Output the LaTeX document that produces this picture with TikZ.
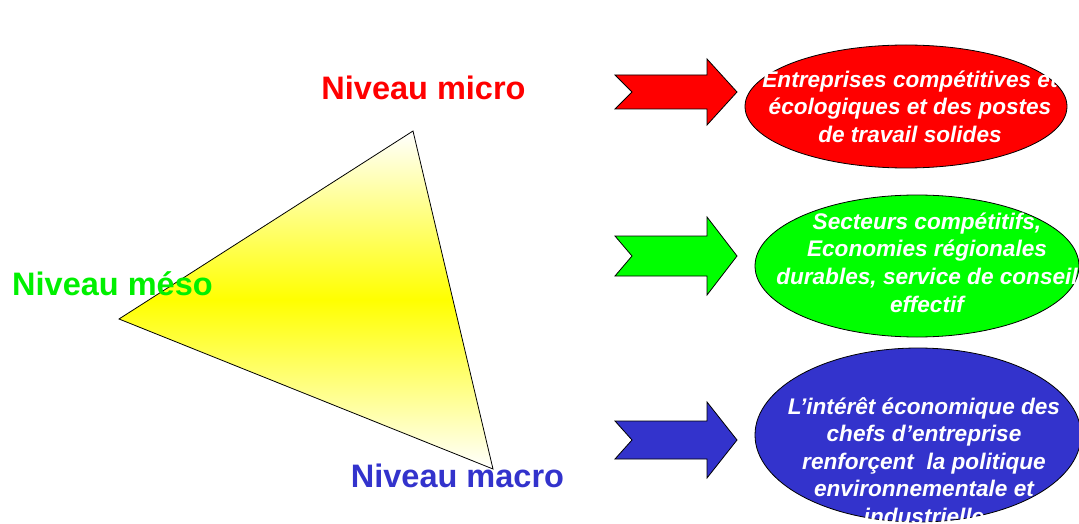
\documentclass[tikz,border=0pt]{standalone}
\usepackage{fontspec}
\setmainfont{Liberation Sans}
\usetikzlibrary{shapes.geometric,calc}

\definecolor{rouge}{RGB}{255,0,0}
\definecolor{vert}{RGB}{0,255,0}
\definecolor{vertclair}{RGB}{0,240,0}
\definecolor{bleu}{RGB}{51,51,204}

\begin{document}
\begin{tikzpicture}[x=1pt,y=-1pt,
    niveau/.style={anchor=base,font=\fontsize{32.5}{36}\selectfont\bfseries},
    bulle/.style={ellipse,draw=black,line width=0.8pt},
    texte/.style={align=center,text=white,font=\fontsize{22.6}{27.6}\selectfont\bfseries\itshape},
    fleche/.style={draw=black,line width=0.8pt,line join=miter}]

  \useasboundingbox (0,0) rectangle (1079,524);

  % triangle des niveaux
  \coordinate (micro) at (413,131);
  \coordinate (meso)  at (119,319);
  \coordinate (macro) at (493,469);
  \shade[top color=white,bottom color=white,middle color=yellow,draw=black,line width=0.8pt]
    (micro) -- (meso) -- (macro) -- cycle;

  \node[niveau,text=rouge]     (lmicro) at (423.5,100) {Niveau micro};
  \node[niveau,text=vertclair] (lmeso)  at (112.5,295) {Niveau méso};
  \node[niveau,text=bleu]      (lmacro) at (457.5,487) {Niveau macro};

  % fleches
  \foreach \yc/\h/\b/\col in {92/33/17/rouge,256/39/20/vert,440/38/19/bleu}
    \draw[fleche,fill=\col] (615,\yc-\b) -- (707,\yc-\b) -- (707,\yc-\h) -- (737,\yc)
      -- (707,\yc+\h) -- (707,\yc+\b) -- (615,\yc+\b) -- (632,\yc) -- cycle;

  % bulles
  \node[bulle,fill=rouge,minimum width=322pt,minimum height=123pt] (e1) at (906,106.5) {};
  \node[bulle,fill=vert,minimum width=324pt,minimum height=142pt]  (e2) at (917,266) {};
  \node[bulle,fill=bleu,minimum width=326pt,minimum height=174pt]  (e3) at (918,435) {};

  \node[texte] (t1) at ($(e1)+(4,0)$) {Entreprises compétitives et\\écologiques et des postes\\de travail solides};
  \node[texte] (t2) at ($(e2)+(10,-3.5)$) {Secteurs compétitifs,\\Economies régionales\\durables, service de conseil\\effectif};
  \node[texte] (t3) at ($(e3)+(6,26)$) {L’intérêt économique des\\chefs d’entreprise\\renforçent\ \ la politique\\environnementale et\\industrielle};
\end{tikzpicture}
\end{document}
